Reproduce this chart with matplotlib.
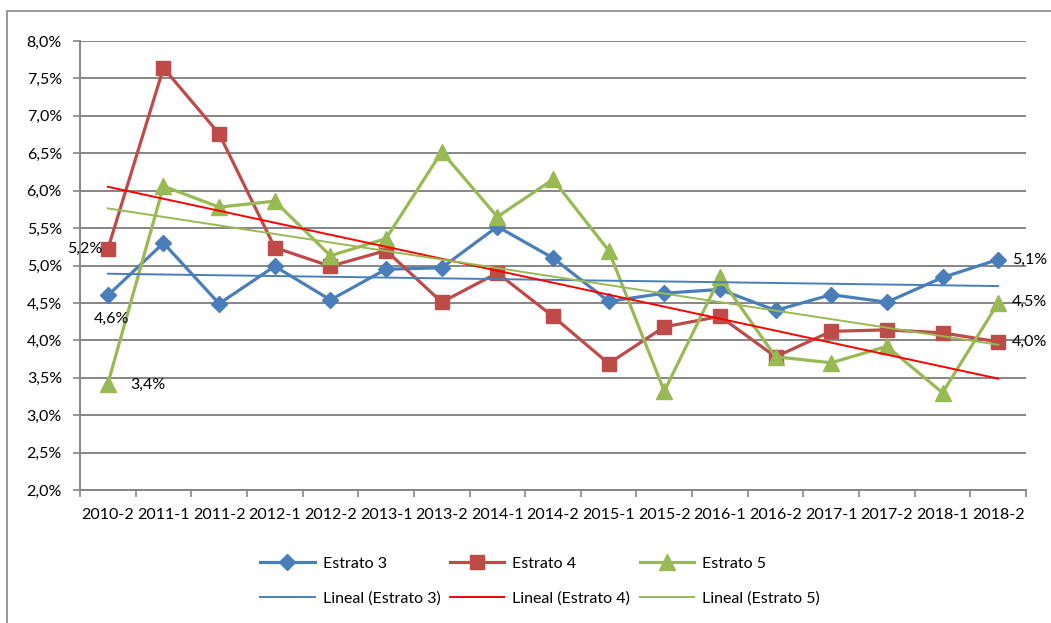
import matplotlib.pyplot as plt
import numpy as np
from matplotlib.patches import Rectangle

plt.rcParams['font.family'] = ['Lato', 'DejaVu Sans']

periods = ["2010-2", "2011-1", "2011-2", "2012-1", "2012-2", "2013-1", "2013-2",
           "2014-1", "2014-2", "2015-1", "2015-2", "2016-1", "2016-2", "2017-1",
           "2017-2", "2018-1", "2018-2"]

estrato3 = [4.60, 5.30, 4.49, 4.99, 4.54, 4.95, 4.97, 5.52, 5.10, 4.52, 4.63,
            4.68, 4.40, 4.61, 4.51, 4.84, 5.08]
estrato4 = [5.22, 7.64, 6.76, 5.24, 4.99, 5.20, 4.51, 4.90, 4.32, 3.69, 4.18,
            4.32, 3.78, 4.12, 4.14, 4.10, 3.98]
estrato5 = [3.42, 6.06, 5.78, 5.86, 5.13, 5.36, 6.52, 5.65, 6.15, 5.20, 3.32,
            4.84, 3.78, 3.70, 3.92, 3.30, 4.50]

blue = "#4A7EBB"
red = "#BE4B48"
green = "#98B954"
grid_c = "#868686"
fs = 11.5

fig = plt.figure(figsize=(10.51, 6.23), dpi=100)
ax = fig.add_axes([80 / 1051, 133 / 623, 946 / 1051, 449 / 623])

# chart border (right and bottom edges fall outside the picture)
top = (623 - 11) / 623
fig.patches.append(Rectangle((7 / 1051, -0.1), 1.2, top + 0.1,
                             transform=fig.transFigure, fill=False,
                             edgecolor=grid_c, linewidth=1.2))

x = np.arange(len(periods))

l3, = ax.plot(x, estrato3, color=blue, lw=2.3, marker="D", ms=8, zorder=4, label="Estrato 3")
l4, = ax.plot(x, estrato4, color=red, lw=2.3, marker="s", ms=10, zorder=4, label="Estrato 4")
l5, = ax.plot(x, estrato5, color=green, lw=2.3, marker="^", ms=11, zorder=4, label="Estrato 5")

# linear trend lines
trends = []
for ys, c, name in [(estrato3, blue, "3"), (estrato4, "#FF0000", "4"), (estrato5, green, "5")]:
    m, b = np.polyfit(x, ys, 1)
    t, = ax.plot(x, m * x + b, color=c, lw=1.4, zorder=5, label=f"Lineal (Estrato {name})")
    trends.append(t)

ax.set_xlim(-0.5, len(periods) - 0.5)
ax.set_ylim(2.0, 8.0)
ax.set_yticks(np.arange(2.0, 8.01, 0.5))
ax.set_yticklabels([f"{v:.1f}%".replace(".", ",") for v in np.arange(2.0, 8.01, 0.5)])
ax.set_xticks(x)
ax.set_xticklabels(periods)
ax.set_xticks(np.arange(-0.5, len(periods), 1), minor=True)
ax.tick_params(axis="x", which="major", length=0, pad=13, labelsize=fs)
ax.tick_params(axis="x", which="minor", length=5, width=1.2, color=grid_c)
ax.tick_params(axis="y", length=5, width=1.2, color=grid_c, pad=8, labelsize=fs)

ax.grid(axis="y", color=grid_c, lw=1.4)
ax.set_axisbelow(True)
for s in ["top", "right"]:
    ax.spines[s].set_visible(False)
for s in ["left", "bottom"]:
    ax.spines[s].set_color(grid_c)
    ax.spines[s].set_linewidth(1.4)

# data labels
def lab(xi, yi, text, dx, dy, ha):
    ax.annotate(text, (xi, yi), xytext=(dx, dy), textcoords="offset pixels",
                ha=ha, va="center", fontsize=fs, zorder=6)

lab(0, estrato4[0], "5,2%", -5, 0, "right")
lab(0, estrato3[0], "4,6%", 4, -23, "center")
lab(0, estrato5[0], "3,4%", 40, -1, "center")
lab(16, estrato3[16], "5,1%", 14, 0, "left")
lab(16, estrato5[16], "4,5%", 14, 1, "left")
lab(16, estrato4[16], "4,0%", 14, 0, "left")

fig.legend(handles=[l3, trends[0], l4, trends[1], l5, trends[2]], ncol=3,
           loc="center", bbox_to_anchor=(540 / 1051, 42 / 623), frameon=False,
           fontsize=fs, handlelength=3.4, columnspacing=0.6, labelspacing=1.3,
           handletextpad=0.5)

fig.savefig("out.png", dpi=100)
